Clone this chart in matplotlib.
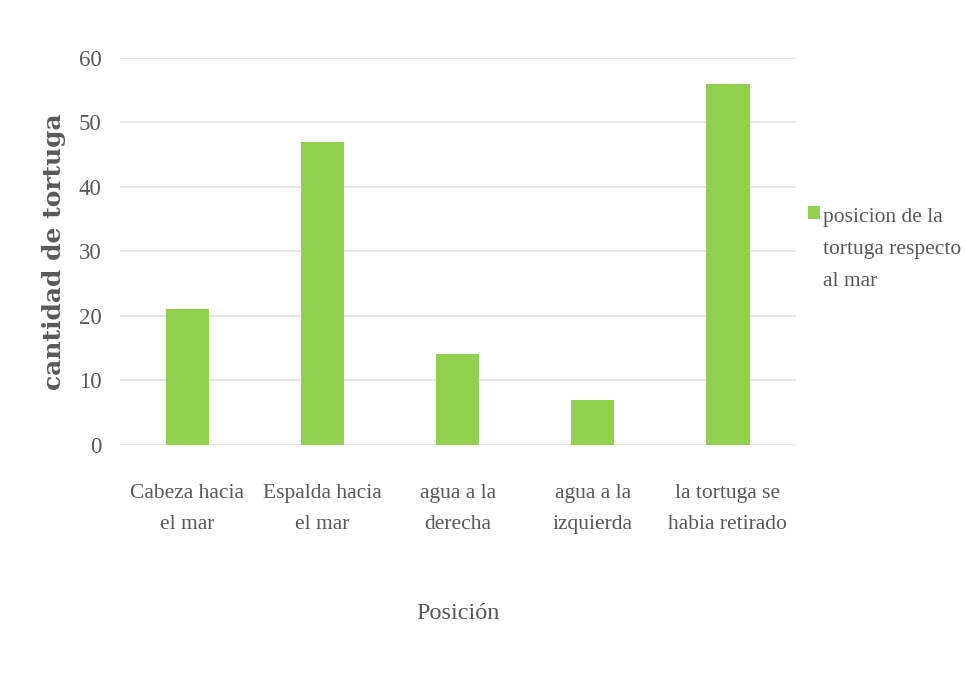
import matplotlib.pyplot as plt
import numpy as np
from matplotlib.patches import Rectangle
from matplotlib.legend_handler import HandlerPatch

categorias = ["Cabeza hacia\nel mar", "Espalda hacia\nel mar", "agua a la\nderecha",
              "agua a la\nizquierda", "la tortuga se\nhabia retirado"]
cantidades = [21, 47, 14, 7, 56]
serie = "posicion de la\ntortuga respecto\nal mar"
yticks = [0, 10, 20, 30, 40, 50, 60]

verde = "#92d050"
gris = "#595959"

plt.rcParams["font.family"] = ["Liberation Serif", "DejaVu Serif"]


def cuadro_arriba(legend, orig_handle, xdescent, ydescent, width, height, fontsize):
    # legend square next to the first line of the label
    desplaz = fontsize * 1.7
    return Rectangle((-xdescent, -ydescent + desplaz), width, height)


fig = plt.figure(figsize=(9.66, 6.79), dpi=100)
ax = fig.add_axes([0.124, 0.345, 0.6995, 0.570])

x = np.arange(len(categorias))
barras = ax.bar(x, cantidades, width=0.32, color=verde, zorder=3)

ax.set_xlim(-0.5, len(categorias) - 0.5)
ax.set_ylim(0, 60)
ax.set_yticks(yticks)
ax.set_xticks(x)
ax.set_xticklabels(categorias, fontsize=15.5, color=gris, linespacing=1.85)
ax.tick_params(axis="y", labelsize=16.5, labelcolor=gris, length=0, pad=13)
ax.tick_params(axis="x", length=0, pad=28)
ax.grid(axis="y", color="#e3e3e3", linewidth=1.2, zorder=0)
for s in ax.spines.values():
    s.set_visible(False)

ax.set_ylabel("cantidad de tortuga", fontsize=18, fontweight="bold", color=gris,
              family="DejaVu Serif", labelpad=9)
fig.text(0.474, 0.097, "Posición", fontsize=17.5, color=gris, ha="center", va="center")

ax.legend([barras.patches[0]], [serie], loc="upper left", bbox_to_anchor=(0.836, 0.694),
          bbox_transform=fig.transFigure, frameon=False, fontsize=15.5, labelcolor=gris,
          handlelength=0.6, handleheight=0.6, handletextpad=0.1, borderaxespad=0,
          borderpad=0, labelspacing=0,
          handler_map={Rectangle: HandlerPatch(patch_func=cuadro_arriba)})
for t in ax.get_legend().get_texts():
    t.set_linespacing(1.95)

fig.savefig("out.png", dpi=100)
